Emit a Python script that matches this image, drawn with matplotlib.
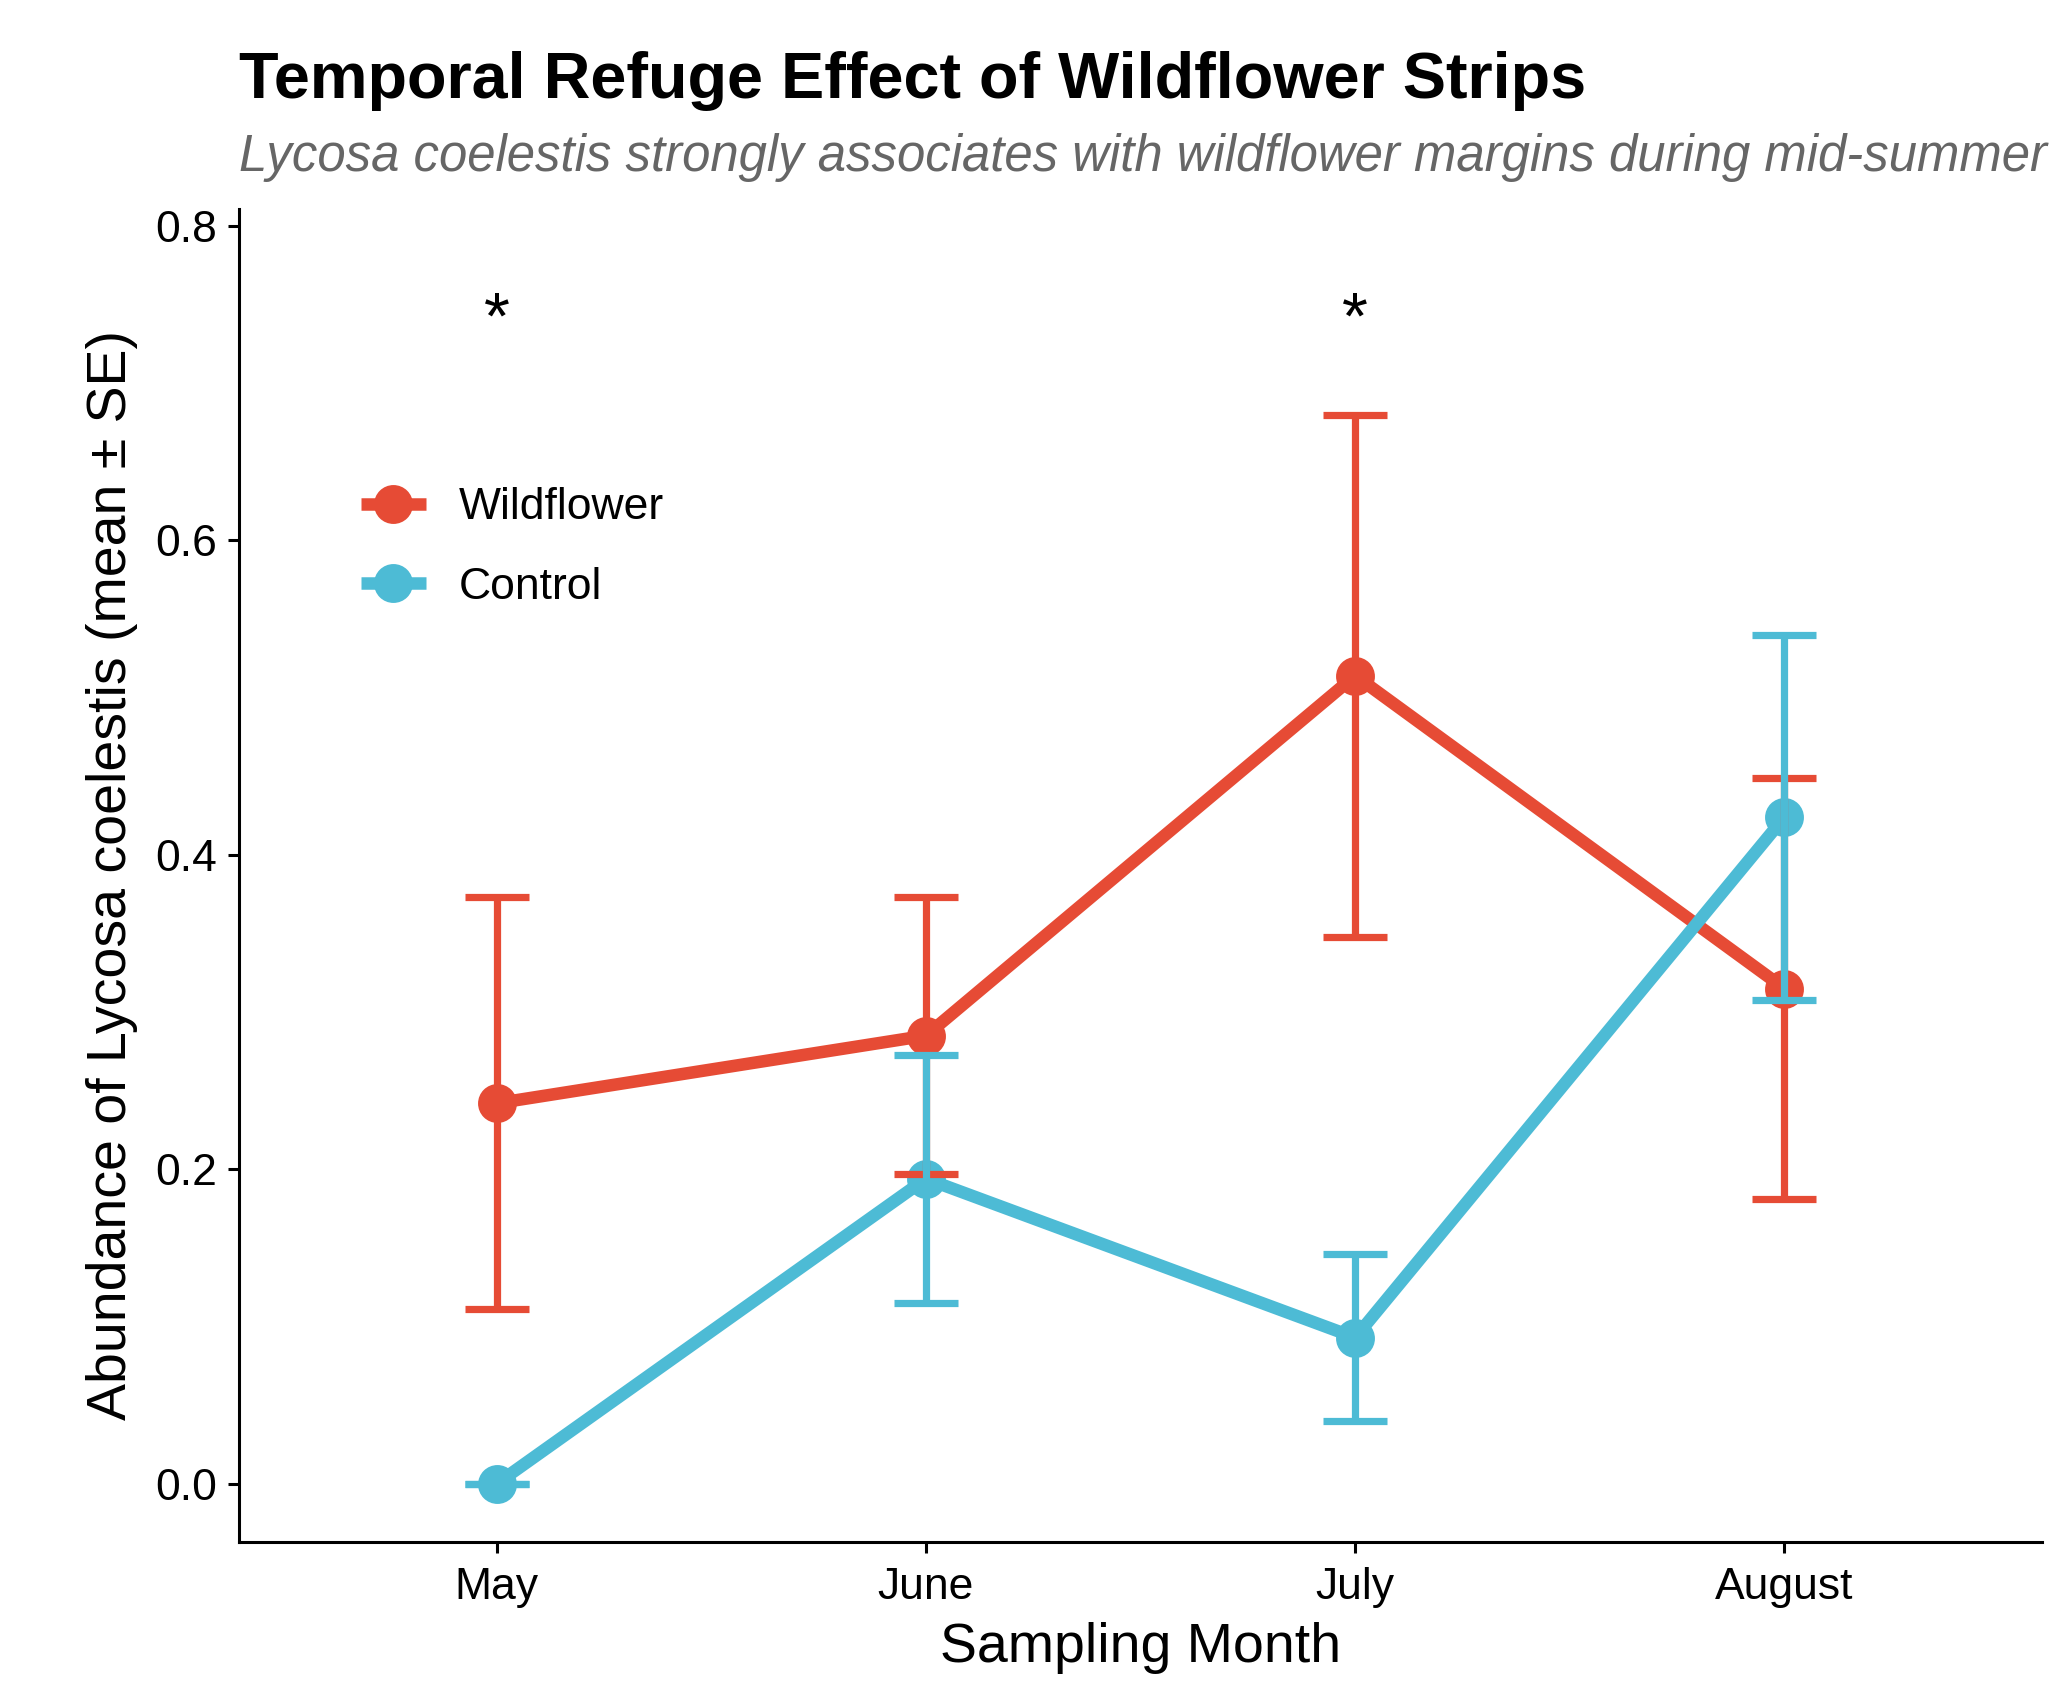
import matplotlib
matplotlib.use("Agg")
import matplotlib.pyplot as plt
from matplotlib.ticker import FormatStrFormatter

plt.rcParams["font.family"] = ["Liberation Sans", "DejaVu Sans"]

# data
months = ["May", "June", "July", "August"]
wildflower_mean = [0.242, 0.285, 0.514, 0.315]
wildflower_se = [0.131, 0.088, 0.166, 0.134]
control_mean = [0.0, 0.194, 0.093, 0.424]
control_se = [0.0, 0.079, 0.053, 0.116]
significant_months = ["May", "July"]
star_height = 0.75

RED = "#E64B35"
BLUE = "#4DBBD5"

x = list(range(1, len(months) + 1))
x_of = dict(zip(months, x))

figure = plt.figure(figsize=(10.35, 8.475), dpi=200)
axes = figure.add_axes([0.1155, 0.0903, 0.871, 0.7866])

series = [("Wildflower", wildflower_mean, wildflower_se, RED),
          ("Control", control_mean, control_se, BLUE)]

for i, (name, mean, se, color) in enumerate(series):
    axes.plot(x, mean, color=color, linewidth=4.5, zorder=2 + i * 0.1,
              solid_capstyle="butt", label=name,
              marker="o", markersize=13)

for i, (name, mean, se, color) in enumerate(series):
    axes.errorbar(x, mean, yerr=se, fmt="none", ecolor=color,
                  elinewidth=2.6, capsize=11.5, capthick=2.6, zorder=3 + i * 0.1)

for m in significant_months:
    axes.annotate("*", xy=(x_of[m], star_height), xytext=(0, -6),
                  textcoords="offset points", ha="center", va="center",
                  fontsize=24, color="black")

axes.set_xlim(0.4, 4.6)
axes.set_ylim(-0.037, 0.811)
axes.set_xticks(x)
axes.set_xticklabels(months)
axes.set_yticks([0.0, 0.2, 0.4, 0.6, 0.8])
axes.yaxis.set_major_formatter(FormatStrFormatter("%.1f"))

axes.spines["right"].set_visible(False)
axes.spines["top"].set_visible(False)
axes.spines["left"].set_linewidth(1.1)
axes.spines["bottom"].set_linewidth(1.1)
axes.tick_params(axis="x", length=4, width=1.1, labelsize=16,
                 colors="black", pad=5)
axes.tick_params(axis="y", length=4, width=1.1, labelsize=16,
                 colors="black", pad=4)

axes.set_xlabel("Sampling Month", fontsize=20, labelpad=5)
axes.set_ylabel("Abundance of Lycosa coelestis (mean \u00b1 SE)", fontsize=20, labelpad=6)

figure.text(0.1155, 0.942, "Temporal Refuge Effect of Wildflower Strips",
            fontsize=23.3, fontweight="bold", ha="left", va="baseline")
figure.text(0.1155, 0.899,
            "Lycosa coelestis strongly associates with wildflower margins during mid-summer",
            fontsize=18.3, fontstyle="italic", color="#666666", ha="left", va="baseline")

axes.legend(loc="upper left", bbox_to_anchor=(0.0455, 0.821), frameon=False,
            fontsize=16, handlelength=1.45, labelspacing=0.87, handletextpad=0.75)

figure.savefig("out.png", dpi=200)
